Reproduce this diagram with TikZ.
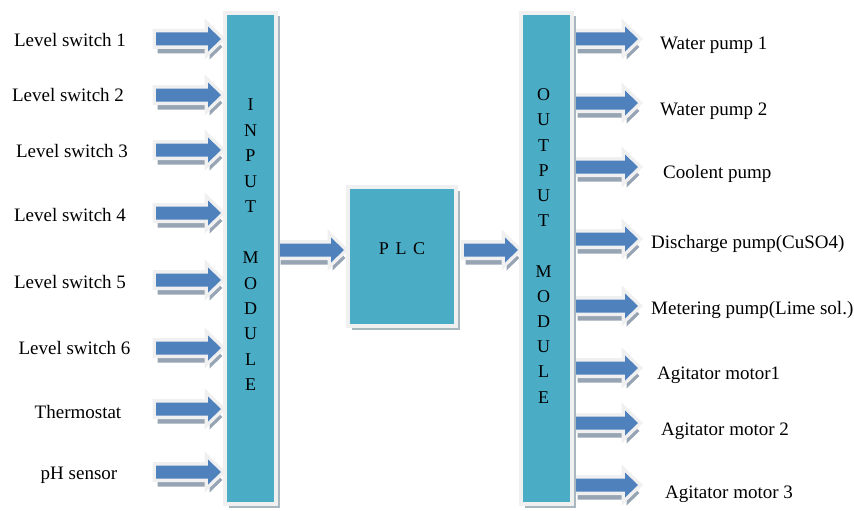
\documentclass[tikz,border=0pt]{standalone}
\usepackage{fontspec}
\setmainfont{Liberation Serif}
\usetikzlibrary{shadows}
\definecolor{arrblue}{HTML}{4F81BD}
\definecolor{modblue}{HTML}{4BACC6}
\definecolor{rim}{HTML}{F0F0F0}
\definecolor{shad}{HTML}{97A4B3}
\definecolor{modshad}{HTML}{A9B7BE}
% block arrow outline: tail x, tip x, centre y (pixels from top)
\newcommand{\arrpoly}[3]{(#1,{-(#3)+6.5}) -- ({#2-13},{-(#3)+6.5}) -- ({#2-13},{-(#3)+12.5}) -- (#2,{-(#3)}) -- ({#2-13},{-(#3)-12.5}) -- ({#2-13},{-(#3)-6.5}) -- (#1,{-(#3)-6.5}) -- cycle}
\newcommand{\blkarrow}[3]{%
  \fill[shad,shift={(1.5,-8)}] \arrpoly{#1}{#2}{#3};
  \filldraw[rim,line width=7pt,line join=miter] \arrpoly{#1}{#2}{#3};
  \fill[arrblue] \arrpoly{#1}{#2}{#3};
}
\tikzset{
  module/.style={fill=modblue,draw=rim,line width=4pt,inner sep=0pt,
    drop shadow={shadow xshift=3.5pt,shadow yshift=-3.5pt,fill=modshad,opacity=1}},
  lbl/.style={font=\fontsize{19}{22}\selectfont,inner sep=0pt,text=black},
  modtext/.style={font=\fontsize{18}{25.45}\selectfont,inner sep=0pt,align=center,text=black},
}
\begin{document}
\begin{tikzpicture}[x=1pt,y=1pt]
\useasboundingbox (0,0) rectangle (854,-511);
% input arrows
\foreach \yy in {39,95,150,213,280,348,409,472} {\blkarrow{156}{221}{\yy}}
% output arrows
\foreach \yy in {39,103,167,239,306,368,423,485} {\blkarrow{576}{638}{\yy}}
% module to PLC arrows
\blkarrow{279}{344}{250}
\blkarrow{464}{518}{250}
% modules
\node[module,minimum width=51pt,minimum height=491pt] (inmod) at (250.5,-258.5) {};
\node[module,minimum width=51pt,minimum height=491pt] (outmod) at (546.5,-258.5) {};
\node[module,minimum width=108pt,minimum height=139pt] (plc) at (402,-256.5) {};
\node[modtext] (intext) at (250.5,-245) {I\\N\\P\\U\\T\\~\\M\\O\\D\\U\\L\\E};
\node[modtext,font=\fontsize{18}{25.2}\selectfont] (outtext) at (543.5,-246) {O\\U\\T\\P\\U\\T\\~\\M\\O\\D\\U\\L\\E};
\node[modtext,anchor=base] (plctext) at (402,-254.5) {P\hspace{6.5pt}L\hspace{6.5pt}C};
% input labels
\node[lbl,anchor=base] (l1) at (70,-46.5) {Level switch 1};
\node[lbl,anchor=base] (l2) at (68,-101.5) {Level switch 2};
\node[lbl,anchor=base] (l3) at (72,-157) {Level switch 3};
\node[lbl,anchor=base] (l4) at (70,-221.5) {Level switch 4};
\node[lbl,anchor=base] (l5) at (70,-288.5) {Level switch 5};
\node[lbl,anchor=base] (l6) at (74.5,-354.5) {Level switch 6};
\node[lbl,anchor=base] (l7) at (78,-418.5) {Thermostat};
\node[lbl,anchor=base] (l8) at (79,-479.5) {pH sensor};
% output labels
\node[lbl,anchor=base west] (r1) at (660,-49.5) {Water pump 1};
\node[lbl,anchor=base west] (r2) at (660,-115.5) {Water pump 2};
\node[lbl,anchor=base west] (r3) at (663,-178.5) {Coolent pump};
\node[lbl,anchor=base west] (r4) at (651,-248) {Discharge pump(CuSO4)};
\node[lbl,anchor=base west] (r5) at (651,-314.5) {Metering pump(Lime sol.)};
\node[lbl,anchor=base west] (r6) at (657,-379.5) {Agitator motor1};
\node[lbl,anchor=base west] (r7) at (661,-435.5) {Agitator motor 2};
\node[lbl,anchor=base west] (r8) at (665,-498.5) {Agitator motor 3};
\end{tikzpicture}
\end{document}
